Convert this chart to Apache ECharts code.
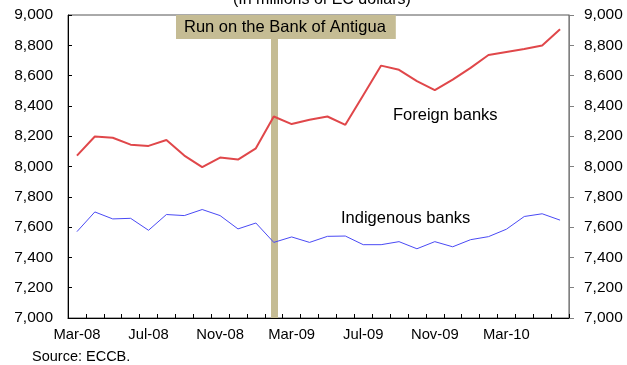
<!DOCTYPE html>
<html>
<head>
<meta charset="utf-8">
<script src="https://cdn.jsdelivr.net/npm/echarts@6/dist/echarts.min.js"></script>
<style>
  html, body { margin: 0; padding: 0; background: #ffffff; }
  #chart { width: 627px; height: 365px; }
</style>
</head>
<body>
<div id="chart"></div>
<script>
// Monthly deposits, Mar-08 to Jun-10 (EC$ millions)
const months = [
  'Mar-08','Apr-08','May-08','Jun-08','Jul-08','Aug-08','Sep-08','Oct-08','Nov-08','Dec-08',
  'Jan-09','Feb-09','Mar-09','Apr-09','May-09','Jun-09','Jul-09','Aug-09','Sep-09','Oct-09',
  'Nov-09','Dec-09','Jan-10','Feb-10','Mar-10','Apr-10','May-10','Jun-10'
];
const foreignBanks = [
  8072, 8198, 8190, 8144, 8136, 8175, 8072, 7996, 8059, 8046,
  8120, 8330, 8280, 8308, 8330, 8275, 8470, 8666, 8638, 8563,
  8504, 8574, 8651, 8736, 8756, 8775, 8799, 8906
];
const indigenousBanks = [
  7570, 7700, 7654, 7658, 7579, 7683, 7676, 7716, 7676, 7588,
  7627, 7499, 7535, 7499, 7539, 7541, 7484, 7484, 7504, 7457,
  7504, 7470, 7517, 7537, 7586, 7670, 7688, 7646
];
const eventMonth = 'Feb-09';
const eventLabel = 'Run on the Bank of Antigua';
const yTicks = { min: 7000, max: 9000, interval: 200 };

const FONT = '"Liberation Sans", Arial, sans-serif';
const fmt = v => v.toLocaleString('en-US');

const chart = echarts.init(document.getElementById('chart'), null, { renderer: 'canvas' });

const axisCommon = {
  type: 'value',
  min: yTicks.min,
  max: yTicks.max,
  interval: yTicks.interval,
  splitLine: { show: false },
  axisLine: { show: true, lineStyle: { color: '#000', width: 1 } },
  axisTick: { show: true, length: 4, lineStyle: { color: '#000' } },
  axisLabel: { formatter: fmt, color: '#000', fontSize: 15.5, fontFamily: FONT, margin: 15 }
};

chart.setOption({
  animation: false,
  backgroundColor: '#ffffff',
  grid: { left: 68, right: 58, top: 15, bottom: 47, show: true, borderColor: '#555', borderWidth: 1 },
  title: {
    text: '(In millions of EC dollars)',
    left: 228, top: -13,
    textStyle: { fontSize: 16, fontWeight: 'normal', color: '#000', fontFamily: FONT }
  },
  xAxis: {
    type: 'category',
    data: months,
    boundaryGap: true,
    axisLine: { lineStyle: { color: '#000', width: 1 } },
    axisTick: { show: true, inside: true, length: 4, interval: 0, lineStyle: { color: '#000' } },
    axisLabel: { interval: 3, color: '#000', fontSize: 14.8, fontFamily: FONT, margin: 9 }
  },
  yAxis: [
    Object.assign({}, axisCommon, {
      position: 'left',
      axisTick: { show: true, inside: true, length: 4, lineStyle: { color: '#000' } }
    }),
    Object.assign({}, axisCommon, {
      position: 'right',
      axisLine: { show: true, lineStyle: { color: '#808080', width: 1 } },
      axisTick: { show: true, inside: false, length: 5, lineStyle: { color: '#808080' } }
    })
  ],
  series: [
    {
      name: 'Foreign banks',
      type: 'line',
      data: foreignBanks,
      symbol: 'none',
      lineStyle: { color: '#E0474A', width: 2 },
      z: 3,
      markLine: {
        silent: true,
        symbol: 'none',
        label: { show: false },
        lineStyle: { color: '#C5BC94', width: 7, type: 'solid', opacity: 1 },
        emphasis: { disabled: true },
        data: [{ xAxis: eventMonth }],
        z: 1
      }
    },
    {
      name: 'Indigenous banks',
      type: 'line',
      data: indigenousBanks,
      symbol: 'none',
      lineStyle: { color: '#4A4AF5', width: 1 },
      z: 4
    }
  ],
  graphic: [
    {
      type: 'text',
      left: 176, top: 15,
      z: 10,
      style: {
        text: eventLabel,
        fontSize: 16.5, fontFamily: FONT, fill: '#000',
        backgroundColor: '#C5BC94',
        padding: [4, 10, 3, 8]
      }
    },
    {
      type: 'text', left: 393, top: 107, z: 10,
      style: { text: 'Foreign banks', fontSize: 16.5, fontFamily: FONT, fill: '#000' }
    },
    {
      type: 'text', left: 341, top: 210, z: 10,
      style: { text: 'Indigenous banks', fontSize: 16.5, fontFamily: FONT, fill: '#000' }
    },
    {
      type: 'text', left: 32, top: 349, z: 10,
      style: { text: 'Source: ECCB.', fontSize: 14.5, fontFamily: FONT, fill: '#000' }
    }
  ]
});
</script>
</body>
</html>
